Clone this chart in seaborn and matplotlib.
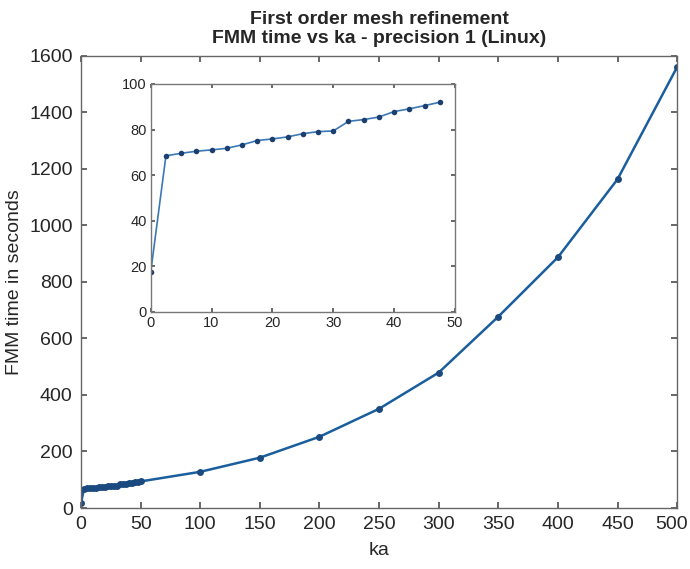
import numpy as np
import pandas as pd
import matplotlib
matplotlib.use("Agg")
import matplotlib.pyplot as plt
import matplotlib.transforms as mtransforms
import seaborn as sns

# small ka values (inset) and larger ka values
ka_small = [0, 2.5, 5, 7.5, 10, 12.5, 15, 17.5, 20, 22.5, 25, 27.5, 30,
            32.5, 35, 37.5, 40, 42.5, 45, 47.5]
time_small = [17.4, 68.5, 69.6, 70.5, 71.1, 71.8, 73.3, 75.2, 75.9, 76.8,
              78.2, 79.1, 79.4, 83.6, 84.4, 85.5, 87.9, 89.1, 90.5, 92.0]
ka_large = [50, 100, 150, 200, 250, 300, 350, 400, 450, 500]
time_large = [94, 128, 178, 252, 351, 479, 677, 887, 1163, 1560]

df_all = pd.DataFrame({"ka": ka_small + ka_large, "t": time_small + time_large})
df_small = pd.DataFrame({"ka": ka_small, "t": time_small})

sns.set_theme(style="white")
plt.rcParams["font.family"] = ["Liberation Sans", "DejaVu Sans"]

line_col = "#1b5e9e"

fig = plt.figure(figsize=(6.9, 5.69), dpi=100)
ax = fig.add_axes([0.1174, 0.1072, 0.864, 0.795])
sns.lineplot(data=df_all, x="ka", y="t", ax=ax, color=line_col, lw=1.8,
             marker="o", markersize=5, markeredgewidth=0, markerfacecolor="#1a4a80")
ax.set_xlim(0, 500)
ax.set_ylim(0, 1600)
ax.set_xticks(range(0, 501, 50))
ax.set_yticks(range(0, 1601, 200))
ax.set_xlabel("ka", fontsize=14, labelpad=6)
ax.set_ylabel("FMM time in seconds", fontsize=14, labelpad=4)
ax.set_title("First order mesh refinement\nFMM time vs ka - precision 1 (Linux)",
             fontsize=14, fontweight="bold", pad=9, linespacing=1.2)
ax.tick_params(direction="in", length=4, labelsize=14, top=True, right=True,
               bottom=True, left=True, color="#555555", pad=6)
for s in ax.spines.values():
    s.set_color("#666666")
    s.set_linewidth(1.0)

# nudge last x label left so it stays inside the figure
last = ax.get_xticklabels()[-1]
last.set_transform(last.get_transform() +
                   mtransforms.ScaledTranslation(-6 / 100, 0, fig.dpi_scale_trans))

ins = fig.add_axes([0.2184, 0.4517, 0.441, 0.4007])
sns.lineplot(data=df_small, x="ka", y="t", ax=ins, color="#3a78b8", lw=1.2,
             marker="o", markersize=4, markeredgewidth=0, markerfacecolor="#1a3f70")
ins.set_xlim(0, 50)
ins.set_ylim(0, 100)
ins.set_xticks(range(0, 51, 10))
ins.set_yticks(range(0, 101, 20))
ins.set_xlabel("")
ins.set_ylabel("")
ins.tick_params(direction="in", length=3, labelsize=10.5, top=True, right=True,
                bottom=True, left=True, color="#555555", pad=3)
for s in ins.spines.values():
    s.set_color("#777777")
    s.set_linewidth(1.0)

fig.savefig("out.png", dpi=100)
